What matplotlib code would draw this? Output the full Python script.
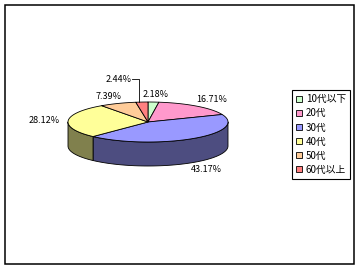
import numpy as np
import matplotlib.pyplot as plt
from matplotlib.patches import Polygon, Rectangle, Patch

plt.rcParams['font.family'] = ['Noto Sans CJK JP', 'DejaVu Sans']

labels = ["10代以下", "20代", "30代", "40代", "50代", "60代以上"]
shares = [2.18, 16.71, 43.17, 28.12, 7.39, 2.44]
colors = ["#CCFFCC", "#FF99CC", "#9999FF", "#FFFF99", "#FFCC99", "#FF8080"]

# pie layout in pixel coords
cx, cy = 148, 122
a, b = 80, 20
depth = 24


def ell(theta, dy=0.0, ra=a, rb=b):
    # theta in degrees, clockwise from 12 o'clock
    t = np.radians(theta)
    return cx + ra * np.sin(t), cy - rb * np.cos(t) + dy


def darker(hexcol, f=0.5):
    h = hexcol.lstrip("#")
    r, g, bl = (int(h[i:i + 2], 16) / 255 for i in (0, 2, 4))
    return (r * f, g * f, bl * f)


fig = plt.figure(figsize=(3.6, 2.7), dpi=100)
ax = fig.add_axes([0, 0, 1, 1])
ax.set_xlim(0, 360)
ax.set_ylim(270, 0)
ax.axis("off")

ax.add_patch(Rectangle((5, 5), 349, 259, fill=False, edgecolor="black", lw=1.1))

cum = np.concatenate([[0], np.cumsum(shares)]) / sum(shares) * 360

# side walls (front half only)
for i, col in enumerate(colors):
    t0, t1 = max(cum[i], 90), min(cum[i + 1], 270)
    if t1 <= t0:
        continue
    ts = np.linspace(t0, t1, 60)
    top = [ell(t) for t in ts]
    bot = [ell(t, depth) for t in ts[::-1]]
    ax.add_patch(Polygon(top + bot, closed=True, facecolor=darker(col),
                         edgecolor="black", lw=0.6, joinstyle="round"))

# top faces
for i, col in enumerate(colors):
    ts = np.linspace(cum[i], cum[i + 1], 80)
    pts = [(cx, cy)] + [ell(t) for t in ts]
    ax.add_patch(Polygon(pts, closed=True, facecolor=col,
                         edgecolor="black", lw=0.6, joinstyle="round"))

# percentage labels
placed = []
for i in range(len(shares)):
    mid = (cum[i] + cum[i + 1]) / 2
    x, y = ell(mid, ra=a + 24, rb=b + 8)
    if np.cos(np.radians(mid)) < 0:
        y += depth
    txt = f"{shares[i]:.2f}%"
    crowded = any(abs(x - px) < 25 and abs(y - py) < 12 for px, py in placed)
    if crowded:
        x, y = x - 21, y - 15
        ex, ey = ell(mid)
        ex -= 3
        ax.plot([x + 13, ex, ex], [y, y, ey], color="black", lw=0.6)
    placed.append((x, y))
    ax.text(x, y, txt, fontsize=6.5, ha="center", va="center")

handles = [Patch(facecolor=c, edgecolor="black", lw=0.6) for c in colors]
leg = ax.legend(handles, labels, loc="upper left",
                bbox_to_anchor=(292 / 360, 1 - 90 / 270),
                bbox_transform=fig.transFigure, fontsize=7,
                frameon=True, fancybox=False, edgecolor="black",
                framealpha=1, borderaxespad=0, borderpad=0.45,
                handlelength=0.6, handleheight=0.6, handletextpad=0.35,
                labelspacing=0.42)
leg.get_frame().set_linewidth(0.8)

fig.savefig("out.png", dpi=100)
